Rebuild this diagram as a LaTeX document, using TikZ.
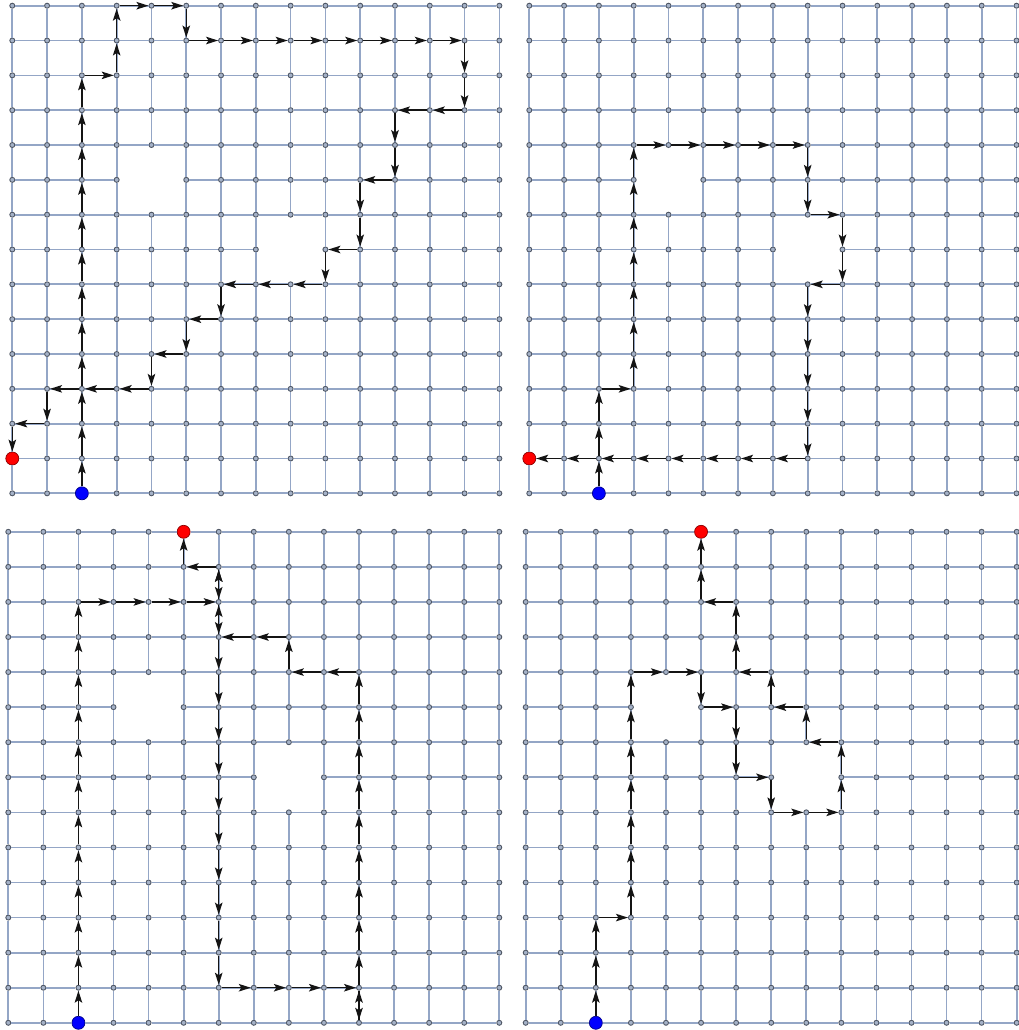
\documentclass[tikz,border=0pt]{standalone}
\usetikzlibrary{arrows.meta}
\definecolor{gedge}{RGB}{148,166,198}
\definecolor{gfill}{RGB}{165,178,200}
\definecolor{gline}{RGB}{80,88,102}
\definecolor{startc}{RGB}{0,0,255}
\definecolor{endc}{RGB}{255,0,0}
\definecolor{walkc}{RGB}{20,20,20}
\tikzset{
  gridnode/.style={circle,inner sep=0pt,minimum size=5pt,fill=gfill,draw=gline,line width=0.9pt},
  startdot/.style={circle,inner sep=0pt,minimum size=13pt,fill=startc,draw=startc!55!black,line width=0.7pt},
  enddot/.style={circle,inner sep=0pt,minimum size=13pt,fill=endc,draw=endc!55!black,line width=0.7pt},
  gridedge/.style={draw=gedge,line width=1.7pt},
  walkstep/.style={draw=walkc,line width=1.5pt,-{Stealth[length=12pt,width=7.5pt,inset=2.5pt]}},
}
% #1 prefix, #2 ox, #3 oy, #4 sx, #5 sy, #6/#7 start, #8/#9 end
\newcommand\gpanel[9]{%
  \foreach \i in {0,...,14}{%
    \foreach \j in {0,...,14}{%
      \pgfmathtruncatemacro\gmiss{(\i==4 && \j==5) || (\i==8 && \j==7)}%
      \ifnum\gmiss=0
        \pgfmathtruncatemacro\gst{(\i==#6 && \j==#7) ? 1 : ((\i==#8 && \j==#9) ? 2 : 0)}%
        \ifcase\gst
          \node[gridnode] (#1-\i-\j) at (#2+\i*#4, #3+\j*#5) {};
        \or
          \node[startdot] (#1-\i-\j) at (#2+\i*#4, #3+\j*#5) {};
        \or
          \node[enddot] (#1-\i-\j) at (#2+\i*#4, #3+\j*#5) {};
        \fi
      \fi
    }%
  }%
  \foreach \i in {0,...,13}{%
    \foreach \j in {0,...,14}{%
      \pgfmathtruncatemacro\gk{\i+1}%
      \pgfmathtruncatemacro\gskip{(\i==4&&\j==5)||(\i==8&&\j==7)||(\gk==4&&\j==5)||(\gk==8&&\j==7)}%
      \ifnum\gskip=0 \draw[gridedge] (#1-\i-\j) -- (#1-\gk-\j); \fi
      \pgfmathtruncatemacro\gskip{(\j==4&&\i==5)||(\j==8&&\i==7)||(\j==4&&\gk==5)||(\j==8&&\gk==7)}%
      \ifnum\gskip=0 \draw[gridedge] (#1-\j-\i) -- (#1-\j-\gk); \fi
    }%
  }%
}
\newcommand\wseg[5]{%
  \pgfmathtruncatemacro\wdx{sign(#4-#2)}%
  \pgfmathtruncatemacro\wdy{sign(#5-#3)}%
  \pgfmathtruncatemacro\wn{abs(#4-#2)+abs(#5-#3)}%
  \foreach \wk in {1,...,\wn}{%
    \pgfmathtruncatemacro\wax{#2+(\wk-1)*\wdx}%
    \pgfmathtruncatemacro\way{#3+(\wk-1)*\wdy}%
    \pgfmathtruncatemacro\wbx{#2+\wk*\wdx}%
    \pgfmathtruncatemacro\wby{#3+\wk*\wdy}%
    \draw[walkstep] (#1-\wax-\way) -- (#1-\wbx-\wby);
  }%
}
\newcommand\walk[4]{%
  \foreach \px/\py [remember=\px as \qx (initially #2), remember=\py as \qy (initially #3)] in {#4}{%
    \wseg{#1}{\qx}{\qy}{\px}{\py}%
  }%
}
\begin{document}
\begin{tikzpicture}[x=1pt,y=-1pt]
\fill[white] (0,0) rectangle (1018,1030);
\useasboundingbox (0,0) rectangle (1018,1030);
\gpanel{A}{12.3}{5.7}{34.79}{34.83}{2}{14}{0}{13}
\gpanel{B}{529.3}{5.7}{34.8}{34.83}{2}{14}{0}{13}
\gpanel{C}{8.3}{531.8}{35.07}{35.07}{2}{14}{5}{0}
\gpanel{D}{525.7}{531.8}{35.07}{35.07}{2}{14}{5}{0}
\walk{A}{2}{14}{2/2, 3/2, 3/0, 5/0, 5/1, 13/1, 13/3, 11/3, 11/5, 10/5, 10/7, 9/7, 9/8, 6/8, 6/9, 5/9, 5/10, 4/10, 4/11, 1/11, 1/12, 0/12, 0/13}
\walk{B}{2}{14}{2/11, 3/11, 3/4, 8/4, 8/6, 9/6, 9/8, 8/8, 8/13, 0/13}
\walk{C}{2}{14}{2/2, 6/2, 6/1, 6/13, 10/13, 10/14, 10/4, 8/4, 8/3, 6/3, 6/1, 5/1, 5/0}
\walk{D}{2}{14}{2/11, 3/11, 3/4, 5/4, 5/5, 6/5, 6/7, 7/7, 7/8, 9/8, 9/6, 8/6, 8/5, 7/5, 7/4, 6/4, 6/2, 5/2, 5/0}
\end{tikzpicture}
\end{document}
